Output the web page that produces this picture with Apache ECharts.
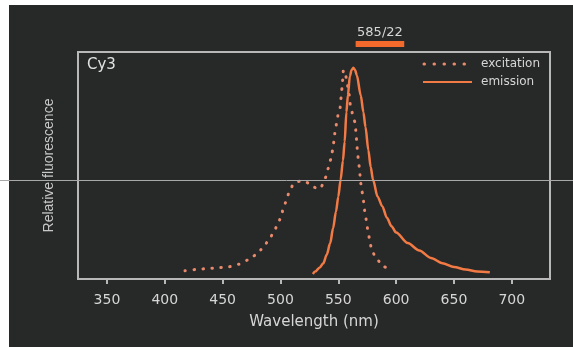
<!DOCTYPE html>
<html><head><meta charset="utf-8">
<script src="https://cdn.jsdelivr.net/npm/echarts@6/dist/echarts.min.js"></script>
<style>
html,body{margin:0;padding:0;background:#fff;}
#wrap{position:relative;width:573px;height:347px;background:#fff;overflow:hidden;}
#dark{position:absolute;left:9px;top:5px;width:564px;height:342px;background:#272828;}
#c{position:absolute;left:0;top:0;width:573px;height:347px;}
</style></head>
<body><div id="wrap"><div id="dark"></div><div id="c"></div></div>
<script>
// ---- data (wavelength nm, relative fluorescence %) ----
const excitationWl = [417.5,427.6,436,445,455,463.6,472.2,478.9,484.7,489.5,493.8,497.3,500.5,502.5,505.4,507.5,511.4,515,519,522,526,529,532.2,535,537.1,539.4,541.4,543.5,545.2,546.3,547.2,548.7,550,551.5,552.4,553.2,553.8,554.4,556,557.8,559.3,560.5,562.5,564.5,565.3,565.9,566.5,567.3,568.2,568.8,569.4,570.5,571.7,572.3,573.7,574.6,576,577.4,578.9,583.2,589,596.2];
const excitationVal = [3.9,4.5,4.9,5.3,5.8,7,9,11.4,14.5,18,21.6,25.4,29.2,33.5,37.4,41.3,45,46.2,46.4,45.8,45,43.5,42.5,43.5,45.3,48.4,52.4,56.6,61,65.3,69.7,74,78.1,81,85.8,90.2,94.2,98.9,97.5,92,87.4,82.3,78,74.2,69.7,65.3,61,56.8,52.9,49.2,45.3,41.3,37.4,33.5,29.5,25.6,21.6,17.4,13.4,9.3,5.8,3.9];
const emissionWl = [528,530,534,537,540,543,545.5,548,550,552,554,555.5,557,558.3,560,561.5,563,564.5,566,569.4,571.7,573.5,576,578,580,584,588,592,596,600,610,620,630,640,650,660,670,681];
const emissionVal = [2.4,3.5,5.5,7.4,11.5,17,24,32,39,47,56,65,79,87,96,99,100,99,96.5,87,79,72,61,53,47,39,34.5,29,25,22,17,13.5,10,7.5,5.7,4.5,3.6,3.2];
const xTicks = [350,400,450,500,550,600,650,700];
const filterBand = [565, 607];
const filterLabel = '585/22';
const dyeName = 'Cy3';
const seriesNames = ['excitation','emission'];

const pair = (a,b)=>a.map((x,i)=>[x,b[i]]);
const chart = echarts.init(document.getElementById('c'), null, {renderer:'canvas'});
const txt = '#d6d6d6';
const exColor = '#ea8a6c', emColor = '#f27b45';
const exLine = {color:exColor,width:3,type:[0.5,8.5],cap:'round'};
const emLine = {color:emColor,width:2.5};
chart.setOption({
  backgroundColor:'transparent',
  animation:false,
  grid:{left:78,top:52,right:23,bottom:68,show:true,borderColor:'#b8b8b8',borderWidth:2,backgroundColor:'transparent'},
  xAxis:{type:'value',min:325,max:733,interval:50,
    axisLine:{show:false},
    axisTick:{show:true,length:5,lineStyle:{color:'#b8b8b8',width:2},customValues:xTicks},
    axisLabel:{color:txt,fontFamily:'DejaVu Sans',fontSize:14,margin:14,customValues:xTicks},
    splitLine:{show:false},
    name:'Wavelength (nm)',nameLocation:'middle',nameGap:36,
    nameTextStyle:{color:txt,fontFamily:'DejaVu Sans',fontSize:15}},
  yAxis:{type:'value',min:0,max:107.5,
    axisLine:{show:false},axisTick:{show:false},axisLabel:{show:false},splitLine:{show:false},
    name:'Relative fluorescence',nameLocation:'middle',nameGap:22,
    nameTextStyle:{color:'#c8c8c8',fontFamily:'Liberation Sans',fontSize:14}},
  series:[
    {name:seriesNames[0],type:'line',data:pair(excitationWl,excitationVal),showSymbol:false,symbol:'none',
     smooth:0.3,smoothMonotone:'x',lineStyle:exLine,itemStyle:{color:exColor}},
    {name:seriesNames[1],type:'line',data:pair(emissionWl,emissionVal),showSymbol:false,symbol:'none',
     smooth:0.3,smoothMonotone:'x',lineStyle:emLine,itemStyle:{color:emColor}}
  ]
});
const x0 = chart.convertToPixel({xAxisIndex:0}, filterBand[0]);
const x1 = chart.convertToPixel({xAxisIndex:0}, filterBand[1]);
const lg = {x:423, w:49, tx:481, y:[64,82]};
chart.setOption({graphic:[
  {type:'rect',shape:{x:x0,y:41,width:x1-x0,height:6},style:{fill:'#f46a2c'}},
  {type:'text',x:(x0+x1)/2,y:33,style:{text:filterLabel,fill:txt,font:'13px "DejaVu Sans"',align:'center',verticalAlign:'middle'}},
  {type:'text',x:87,y:65,style:{text:dyeName,fill:'#e2e2e2',font:'15px "DejaVu Sans"',align:'left',verticalAlign:'middle'}},
  {type:'line',shape:{x1:lg.x+1,y1:lg.y[0],x2:lg.x+lg.w,y2:lg.y[0]},style:{stroke:exColor,lineWidth:3,lineDash:[0.5,9.5],lineCap:'round'}},
  {type:'text',x:lg.tx,y:lg.y[0],style:{text:seriesNames[0],fill:txt,font:'12px "DejaVu Sans"',align:'left',verticalAlign:'middle'}},
  {type:'line',shape:{x1:lg.x,y1:lg.y[1],x2:lg.x+lg.w,y2:lg.y[1]},style:{stroke:emColor,lineWidth:2}},
  {type:'text',x:lg.tx,y:lg.y[1],style:{text:seriesNames[1],fill:txt,font:'12px "DejaVu Sans"',align:'left',verticalAlign:'middle'}},
  {type:'line',z:100,shape:{x1:0,y1:180.5,x2:573,y2:180.5},style:{stroke:'#a8a8a8',lineWidth:1}}
]});
</script></body></html>
